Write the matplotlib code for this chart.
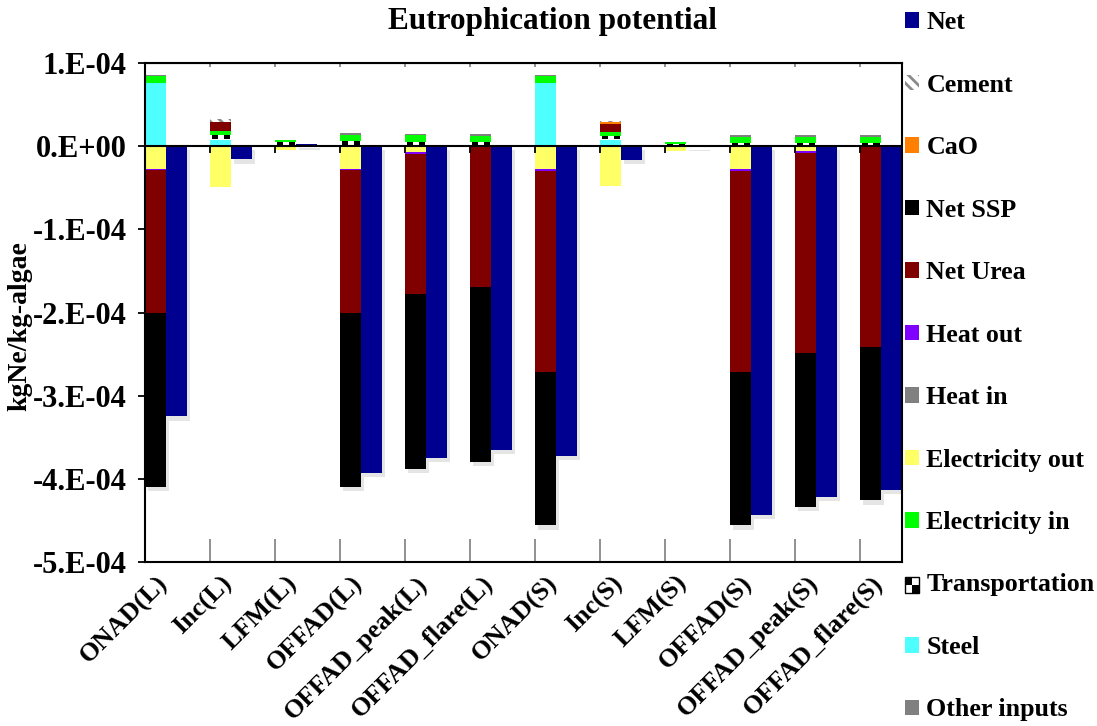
import matplotlib
matplotlib.use('Agg')
import matplotlib.pyplot as plt
import numpy as np
from matplotlib.patches import Patch, Rectangle
from matplotlib.markers import TICKDOWN
import matplotlib.patheffects as pe

plt.rcParams['font.family'] = ['Liberation Serif', 'DejaVu Serif']
plt.rcParams['font.weight'] = 'bold'
plt.rcParams['axes.labelweight'] = 'bold'
plt.rcParams['hatch.linewidth'] = 2.0

# data (values in units of 1e-5 kgNe/kg-algae)
categories = ['ONAD(L)', 'Inc(L)', 'LFM(L)', 'OFFAD(L)', 'OFFAD_peak(L)', 'OFFAD_flare(L)',
              'ONAD(S)', 'Inc(S)', 'LFM(S)', 'OFFAD(S)', 'OFFAD_peak(S)', 'OFFAD_flare(S)']
scale = 1e-5
other_inputs = [0, 0, 0, 0, 0, 0, 0, 0, 0, 0, 0, 0]
steel = [7.6, 0.7, 0, 0, 0, 0, 7.6, 0.7, 0, 0, 0, 0]
transportation = [0, 0.6, 0.55, 0.6, 0.5, 0.5, 0, 0.5, 0.3, 0.35, 0.35, 0.35]
electricity_in = [0.8, 0.55, 0.25, 0.7, 0.8, 0.75, 0.8, 0.5, 0.2, 0.75, 0.7, 0.7]
electricity_out = [-2.7, -4.9, -0.5, -2.7, -0.7, 0, -2.7, -4.8, -0.6, -2.75, -0.55, 0]
heat_in = [0.2, 0, 0, 0.3, 0.2, 0.25, 0.2, 0, 0, 0.25, 0.25, 0.25]
heat_out = [-0.15, 0, 0, -0.2, -0.2, 0, -0.3, 0, 0, -0.2, -0.25, 0]
net_urea = [-17.15, 1.1, 0, -17.1, -16.85, -16.95, -24.1, 0.95, 0, -24.15, -24.1, -24.1]
net_ssp = [-21.0, 0, 0, -21.0, -21.05, -21.0, -18.5, 0, 0, -18.5, -18.5, -18.5]
cao = [0, 0, 0, 0, 0, 0, 0, 0.2, 0, 0, 0, 0]
cement = [0, 0.3, 0, 0, 0, 0, 0, 0.2, 0, 0, 0, 0]
net = [-32.5, -1.6, 0.25, -39.3, -37.5, -36.5, -37.2, -1.7, -0.1, -44.3, -42.2, -41.3]

y_ticks = [-5e-4, -4e-4, -3e-4, -2e-4, -1e-4, 0, 1e-4]
y_tick_labels = ['-5.E-04', '-4.E-04', '-3.E-04', '-2.E-04', '-1.E-04', '0.E+00', '1.E-04']

series = [
    ('Other inputs', other_inputs, '#808080'),
    ('Steel', steel, '#4DFFFF'),
    ('Transportation', transportation, 'white'),
    ('Electricity in', electricity_in, '#00FF00'),
    ('Electricity out', electricity_out, '#FFFF66'),
    ('Heat in', heat_in, '#808080'),
    ('Heat out', heat_out, '#8000FF'),
    ('Net Urea', net_urea, '#800000'),
    ('Net SSP', net_ssp, '#000000'),
    ('CaO', cao, '#FF8000'),
    ('Cement', cement, 'white'),
]
net_color = '#000090'
shadow = [pe.SimplePatchShadow(offset=(2, -3), shadow_rgbFace='#999999', alpha=0.25), pe.Normal()]

fig = plt.figure(figsize=(10.97, 7.26), dpi=100)
ax = fig.add_axes([145 / 1097, 1 - 562 / 726, (902 - 145) / 1097, (562 - 63) / 726])

n = len(categories)
x = np.arange(n)
w = 0.325
pos_bottom = np.zeros(n)
neg_bottom = np.zeros(n)
for name, vals, color in series:
    v = np.array(vals) * scale
    bottom = np.where(v >= 0, pos_bottom, neg_bottom)
    if name == 'Cement':
        ax.bar(x, v, w, bottom=bottom, align='edge', color='white',
               edgecolor='#8a8a8a', hatch='\\\\\\', linewidth=0)
    else:
        bars = ax.bar(x, v, w, bottom=bottom, align='edge', color=color, linewidth=0)
        if name == 'Net SSP':
            for b in bars:
                b.set_path_effects(shadow)
    if name == 'Transportation':
        # checkered look
        for xi, b, h in zip(x, bottom, v):
            if h == 0:
                continue
            for off in (0.1, 0.65):
                ax.add_patch(Rectangle((xi + off * w, b + 0.3 * h), 0.3 * w, 0.7 * h,
                                       facecolor='black', linewidth=0))
    pos_bottom += np.where(v > 0, v, 0)
    neg_bottom += np.where(v < 0, v, 0)

net_bars = ax.bar(x + w, np.array(net) * scale, w, align='edge', color=net_color, linewidth=0)
for b in net_bars:
    b.set_path_effects(shadow)

ax.axhline(0, color='black', lw=1.5, zorder=3)
ax.plot(x, np.zeros(n), ls='none', marker=TICKDOWN, ms=5, mew=1.3, color='black',
        zorder=3, clip_on=False)

ax.set_xlim(0, 11.65)
ax.set_ylim(-5e-4, 1e-4)
ax.set_yticks(y_ticks)
ax.set_yticklabels(y_tick_labels, fontsize=22)
ax.tick_params(axis='y', direction='out', length=5, width=1.3, pad=8)

ax.set_xticks(x + 0.17)
ax.set_xticklabels(categories, rotation=45, ha='right', rotation_mode='anchor', fontsize=19)
ax.tick_params(axis='x', which='major', length=0, pad=7)
ax.set_xticks(x, minor=True)
ax.tick_params(axis='x', which='minor', direction='in', length=16.5, width=1.3, color='#888888')

top = ax.secondary_xaxis('top')
top.set_xticks(x)
top.set_xticklabels([])
top.tick_params(direction='in', length=3, width=1.3, color='#888888')

for s in ax.spines.values():
    s.set_linewidth(1.5)

ax.set_ylabel('kgNe/kg-algae', fontsize=20)
ax.yaxis.set_label_coords(-0.149, 0.473)

fig.text(552 / 1097, 1 - 22 / 726, 'Eutrophication potential', ha='center', va='center',
         fontsize=22.5, fontweight='bold')


class CheckerHandler:
    def legend_artist(self, legend, orig_handle, fontsize, handlebox):
        x0, y0 = handlebox.xdescent, handlebox.ydescent
        hw, hh = handlebox.width, handlebox.height
        tr = handlebox.get_transform()
        box = Rectangle((x0, y0), hw, hh, facecolor='white', edgecolor='black', lw=1, transform=tr)
        handlebox.add_artist(box)
        for dx, dy in [(0, 0.5), (0.5, 0)]:
            handlebox.add_artist(Rectangle((x0 + dx * hw, y0 + dy * hh), hw / 2, hh / 2,
                                           facecolor='black', lw=0, transform=tr))
        return box


transport_handle = Patch(facecolor='white')
handles = [
    Patch(facecolor=net_color),
    Patch(facecolor='white', edgecolor='#8a8a8a', hatch='\\\\\\', linewidth=0),
    Patch(facecolor='#FF8000'),
    Patch(facecolor='#000000'),
    Patch(facecolor='#800000'),
    Patch(facecolor='#8000FF'),
    Patch(facecolor='#808080'),
    Patch(facecolor='#FFFF66'),
    Patch(facecolor='#00FF00'),
    transport_handle,
    Patch(facecolor='#4DFFFF'),
    Patch(facecolor='#808080'),
]
labels = ['Net', 'Cement', 'CaO', 'Net SSP', 'Net Urea', 'Heat out', 'Heat in',
          'Electricity out', 'Electricity in', 'Transportation', 'Steel', 'Other inputs']
fig.legend(handles, labels, loc='upper left', bbox_to_anchor=(900 / 1097, 1 - 6 / 726),
           frameon=False, fontsize=18.7, handlelength=0.54, handleheight=0.54,
           handletextpad=0.28, labelspacing=1.52, borderaxespad=0, borderpad=0.2,
           handler_map={transport_handle: CheckerHandler()})

fig.savefig('out.png', dpi=100)
